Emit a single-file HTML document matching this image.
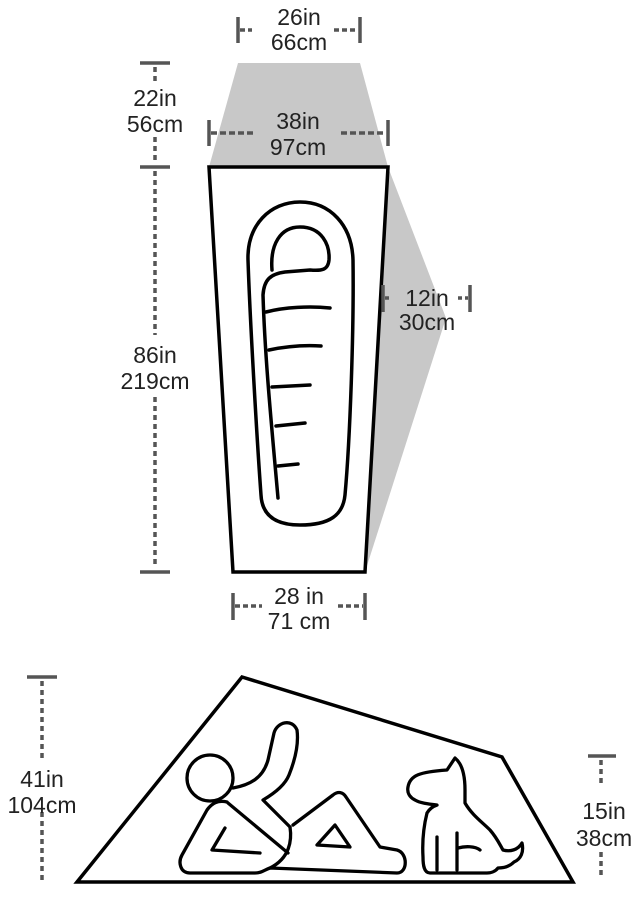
<!DOCTYPE html>
<html><head><style>
html,body{margin:0;padding:0;background:#fff;width:638px;height:900px;overflow:hidden}
text{font-family:"Liberation Sans",sans-serif;font-size:23px;fill:#222;text-anchor:middle}
</style></head><body>
<svg width="638" height="900" viewBox="0 0 638 900" xmlns="http://www.w3.org/2000/svg">
<polygon points="238,63 360,63 388,167 209,167" fill="#c8c8c8"/>
<polygon points="388,167 446,318 365,572" fill="#c8c8c8"/>
<polygon points="209,167 388,167 365,572 233,572" fill="#fff" stroke="#000" stroke-width="3.5" stroke-linejoin="miter"/>
<path d="M300,202 C330,202 352,225 353,260 C354,330 350,440 345,495 C343,515 330,525 300,525 C275,525 262,515 261,495 C257,440 250,320 248,260 C247,225 270,202 300,202 Z" fill="none" stroke="#000" stroke-width="3.5"/>
<path d="M272,270 C270,245 280,227 300,227 C322,227 330,245 329,260 C328,270 322,271 310,270 L285,272 C270,274 264,280 263,295 C265,360 272,430 278,498" fill="none" stroke="#000" stroke-width="3.5" stroke-linecap="round"/>
<g stroke="#000" stroke-width="3.5" stroke-linecap="round" fill="none">
<path d="M266,312 C285,307 310,306 330,308"/>
<path d="M269,350 C288,346 305,345 321,346"/>
<path d="M272,387 L310,385"/>
<path d="M276,426 L305,423"/>
<path d="M278,466 L298,464"/>
</g>
<g stroke="#555" stroke-width="3.5" fill="none">
<line x1="238" y1="17" x2="238" y2="43"/><line x1="360" y1="17" x2="360" y2="43"/>
<line x1="240" y1="30" x2="252" y2="30" stroke-dasharray="5,3"/>
<line x1="334" y1="30" x2="358" y2="30" stroke-dasharray="5,3"/>
<line x1="209" y1="120" x2="209" y2="146"/><line x1="388" y1="120" x2="388" y2="146"/>
<line x1="211" y1="133" x2="255" y2="133" stroke-dasharray="6,3"/>
<line x1="341" y1="133" x2="386" y2="133" stroke-dasharray="6,3"/>
<line x1="140" y1="63" x2="170" y2="63"/><line x1="140" y1="167" x2="170" y2="167"/><line x1="140" y1="572" x2="170" y2="572"/>
<line x1="155" y1="67" x2="155" y2="82" stroke-dasharray="5,4"/>
<line x1="155" y1="137" x2="155" y2="164" stroke-dasharray="5,4"/>
<line x1="155" y1="171" x2="155" y2="335" stroke-dasharray="5,4"/>
<line x1="155" y1="397" x2="155" y2="568" stroke-dasharray="5,4"/>
<line x1="383" y1="285" x2="383" y2="312"/><line x1="470" y1="285" x2="470" y2="312"/>
<line x1="385" y1="298" x2="392" y2="298" stroke-dasharray="4,3"/>
<line x1="458" y1="298" x2="468" y2="298" stroke-dasharray="4,3"/>
<line x1="233" y1="593" x2="233" y2="620"/><line x1="365" y1="593" x2="365" y2="620"/>
<line x1="235" y1="606" x2="262" y2="606" stroke-dasharray="5,3"/>
<line x1="338" y1="606" x2="363" y2="606" stroke-dasharray="5,3"/>
<line x1="27" y1="677" x2="57" y2="677"/>
<line x1="42" y1="681" x2="42" y2="760" stroke-dasharray="5,4"/>
<line x1="42" y1="812" x2="42" y2="880" stroke-dasharray="5,4"/>
<line x1="588" y1="756" x2="616" y2="756"/>
<line x1="601" y1="760" x2="601" y2="785" stroke-dasharray="5,4"/>
<line x1="601" y1="852" x2="601" y2="878" stroke-dasharray="5,4"/>
</g>
<text x="299" y="25">26in</text><text x="299" y="50">66cm</text>
<text x="155" y="106">22in</text><text x="155" y="132">56cm</text>
<text x="298" y="129">38in</text><text x="298" y="155">97cm</text>
<text x="155" y="363">86in</text><text x="155" y="389">219cm</text>
<text x="427" y="306">12in</text><text x="427" y="330">30cm</text>
<text x="299" y="604">28 in</text><text x="299" y="629">71 cm</text>
<text x="42" y="787">41in</text><text x="42" y="813">104cm</text>
<text x="604" y="819">15in</text><text x="604" y="846">38cm</text>
<polygon points="77,882 242,677 502,757 573,882" fill="none" stroke="#000" stroke-width="3.5" stroke-linejoin="miter"/>
<g fill="none" stroke="#000" stroke-width="3.3" stroke-linecap="round" stroke-linejoin="round">
<circle cx="210" cy="778" r="23"/>
<path d="M233,788 C250,785 263,778 268,760 L274,733 C277,722 292,718 297,730 C299,745 295,760 289,775 C285,785 275,793 263,800 L290,827"/>
<path d="M293,825 L333,795 C338,791 343,792 346,797 L380,847 L397,850 C408,853 408,873 397,873 L270,868 C264,870 262,873 255,873 L190,873 C180,873 178,862 182,855 L207,810 C212,803 218,800 227,802"/>
<path d="M290,827 C292,840 290,858 270,868"/>
<path d="M228,803 L288,853"/>
<path d="M225,828 L212,850 L260,853"/>
<polygon points="335,825 317,845 350,847"/>
<path d="M408,787 C410,775 420,772 447,770 L455,758 C460,762 465,770 465,790 L465,803 C472,815 482,822 490,830 C497,838 500,845 503,850 C510,852 518,850 522,843 C524,852 521,859 514,862 C510,866 505,868 498,868 C495,872 490,873 487,873 L430,873 C424,873 423,865 423,857 C422,840 424,825 427,813 C430,808 434,806 437,805 C428,804 420,803 415,800 C409,797 407,792 408,787 Z"/>
<path d="M437,837 L437,870"/>
<path d="M457,833 L457,870"/>
<path d="M458,848 C465,846 475,846 480,850"/>
</g>
</svg>
</body></html>
